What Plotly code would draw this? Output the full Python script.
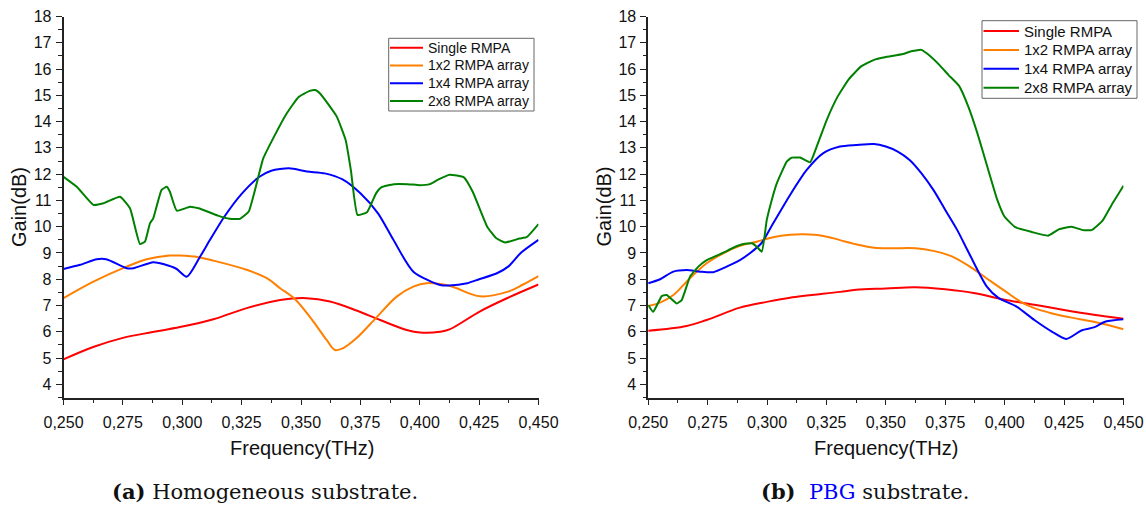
import plotly.graph_objects as go

W, H = 1146, 509

# ---------------- data: (a) Homogeneous substrate ----------------
a_single_x = [0.250, 0.2625, 0.275, 0.2875, 0.299, 0.3131, 0.3271, 0.3412, 0.3524, 0.3622, 0.3734,
              0.3833, 0.3945, 0.4001, 0.4086, 0.4125, 0.4254, 0.4375, 0.450]
a_single_y = [4.95, 5.42, 5.77, 5.99, 6.18, 6.48, 6.90, 7.21, 7.28, 7.15, 6.81,
              6.45, 6.07, 5.97, 6.0, 6.09, 6.78, 7.31, 7.8]

a_1x2_x = [0.250, 0.2626, 0.2766, 0.2850, 0.2948, 0.2990, 0.3068, 0.3131, 0.3271, 0.3356, 0.3412,
           0.3475, 0.3552, 0.3608, 0.3643, 0.3678, 0.3734, 0.3819, 0.3903, 0.3973, 0.4029,
           0.4125, 0.4254, 0.4375, 0.4435, 0.450]
a_1x2_y = [7.28, 7.91, 8.48, 8.76, 8.90, 8.90, 8.84, 8.71, 8.36, 8.04, 7.66,
           7.24, 6.39, 5.69, 5.31, 5.38, 5.76, 6.56, 7.34, 7.72, 7.85,
           7.75, 7.35, 7.54, 7.8, 8.12]

a_1x4_x = [0.250, 0.2570, 0.2640, 0.2680, 0.2766, 0.2794, 0.2878, 0.2920, 0.2975, 0.3019, 0.3075,
           0.3117, 0.3175, 0.325, 0.3325, 0.3375, 0.345, 0.3525, 0.360, 0.3675, 0.375,
           0.3825, 0.3889, 0.3973, 0.4086, 0.4125, 0.420, 0.425, 0.4325, 0.4375, 0.4425,
           0.450]
a_1x4_y = [8.39, 8.55, 8.76, 8.76, 8.42, 8.42, 8.65, 8.58, 8.4, 8.10, 8.86,
           9.5, 10.35, 11.25, 11.9, 12.13, 12.22, 12.1, 12.03, 11.8, 11.27,
           10.5, 9.5, 8.29, 7.78, 7.76, 7.85, 8.0, 8.23, 8.5, 9.0,
           9.5]

a_2x8_x = [0.250, 0.2556, 0.2626, 0.2668, 0.2738, 0.2780, 0.2822, 0.2843, 0.2864, 0.2878, 0.2913,
           0.2935, 0.2948, 0.2977, 0.3033, 0.3068, 0.310, 0.315, 0.320, 0.3243, 0.3280,
           0.3341, 0.3386, 0.3439, 0.3490, 0.3537, 0.3560, 0.3582, 0.3650, 0.3688, 0.3710,
           0.3738, 0.3778, 0.3816, 0.3838, 0.3891, 0.395, 0.400, 0.4042, 0.4075, 0.4125,
           0.4186, 0.4223, 0.4284, 0.4321, 0.4360, 0.4420, 0.4450, 0.450]
a_2x8_y = [11.90, 11.52, 10.83, 10.89, 11.14, 10.70, 9.34, 9.43, 10.13, 10.32, 11.40,
           11.52, 11.33, 10.61, 10.76, 10.70, 10.6, 10.42, 10.3, 10.3, 10.58,
           12.6, 13.42, 14.3, 14.94, 15.17, 15.2, 15.05, 14.2, 13.3, 12.15,
           10.45, 10.55, 11.27, 11.5, 11.62, 11.62, 11.58, 11.62, 11.78, 11.98,
           11.88, 11.33, 10.0, 9.57, 9.4, 9.55, 9.6, 10.1]

# ---------------- data: (b) PBG substrate ----------------
b_single_x = [0.250, 0.2662, 0.2746, 0.2886, 0.2999, 0.3097, 0.3307, 0.3375, 0.350, 0.3625, 0.375,
              0.3875, 0.400, 0.4125, 0.425, 0.4375, 0.450]
b_single_y = [6.04, 6.22, 6.45, 6.92, 7.14, 7.30, 7.52, 7.6, 7.65, 7.7, 7.62,
              7.47, 7.22, 7.03, 6.83, 6.65, 6.5]

b_1x2_x = [0.250, 0.255, 0.2606, 0.2676, 0.2746, 0.2816, 0.2886, 0.2957, 0.3026, 0.3097, 0.3153,
           0.3237, 0.3307, 0.3375, 0.345, 0.3525, 0.3625, 0.370, 0.3775, 0.385, 0.3925,
           0.400, 0.4075, 0.4125, 0.420, 0.4275, 0.4375, 0.450]
b_1x2_y = [6.98, 7.11, 7.40, 8.04, 8.61, 8.99, 9.27, 9.43, 9.60, 9.69, 9.71,
           9.65, 9.49, 9.33, 9.2, 9.18, 9.18, 9.08, 8.88, 8.5, 8.03,
           7.56, 7.1, 6.9, 6.7, 6.55, 6.38, 6.1]

b_1x4_x = [0.250, 0.255, 0.2606, 0.2662, 0.2718, 0.2774, 0.2830, 0.2886, 0.2928, 0.2978, 0.3026,
           0.3097, 0.3167, 0.3237, 0.3307, 0.3375, 0.345, 0.350, 0.355, 0.360, 0.365,
           0.370, 0.375, 0.380, 0.385, 0.3925, 0.3975, 0.405, 0.4125, 0.420, 0.4259,
           0.4325, 0.4375, 0.4425, 0.450]
b_1x4_y = [7.85, 8.0, 8.29, 8.35, 8.29, 8.27, 8.48, 8.73, 8.99, 9.39, 10.13,
           11.21, 12.16, 12.80, 13.05, 13.11, 13.15, 13.05, 12.86, 12.54, 12.03,
           11.4, 10.64, 9.88, 8.99, 7.72, 7.28, 6.96, 6.45, 6.0, 5.73,
           6.06, 6.17, 6.39, 6.48]

b_2x8_x = [0.250, 0.2521, 0.2557, 0.2578, 0.2620, 0.2641, 0.2676, 0.2711, 0.2746, 0.2774, 0.2816,
           0.2858, 0.2900, 0.2936, 0.2957, 0.2978, 0.2999, 0.3020, 0.3041, 0.3083, 0.3104,
           0.3139, 0.3181, 0.3209, 0.3251, 0.3297, 0.3343, 0.3396, 0.3450, 0.3496, 0.3572,
           0.3603, 0.3649, 0.3672, 0.3725, 0.3763, 0.3808, 0.3847, 0.3885, 0.3931, 0.3969,
           0.3999, 0.4045, 0.4114, 0.4183, 0.4228, 0.4282, 0.4328, 0.4366, 0.4412, 0.4450,
           0.450]
b_2x8_y = [7.02, 6.76, 7.36, 7.40, 7.08, 7.21, 8.10, 8.48, 8.73, 8.84, 9.01,
           9.20, 9.34, 9.37, 9.24, 9.05, 10.26, 11.02, 11.65, 12.48, 12.63,
           12.63, 12.45, 13.05, 14.06, 14.95, 15.6, 16.1, 16.35, 16.45, 16.57,
           16.67, 16.73, 16.6, 16.16, 15.78, 15.36, 14.57, 13.56, 12.16, 11.02,
           10.39, 9.98, 9.8, 9.66, 9.9, 10.0, 9.87, 9.87, 10.23, 10.83,
           11.56]

series_names = ["Single RMPA", "1x2 RMPA array", "1x4 RMPA array", "2x8 RMPA array"]
series_colors = ["#FF0000", "#FF8000", "#0000FF", "#008000"]
smoothing = [1.0, 1.0, 0.7, 0.4]

x_ticks = [0.250, 0.275, 0.300, 0.325, 0.350, 0.375, 0.400, 0.425, 0.450]
y_ticks = list(range(4, 19))

panel_a = [(a_single_x, a_single_y), (a_1x2_x, a_1x2_y), (a_1x4_x, a_1x4_y), (a_2x8_x, a_2x8_y)]
panel_b = [(b_single_x, b_single_y), (b_1x2_x, b_1x2_y), (b_1x4_x, b_1x4_y), (b_2x8_x, b_2x8_y)]

fig = go.Figure()

for axes, panel in ((("x", "y"), panel_a), (("x2", "y2"), panel_b)):
    for i, (xs, ys) in enumerate(panel):
        fig.add_trace(go.Scatter(x=xs, y=ys, mode="lines", name=series_names[i],
                                 line=dict(color=series_colors[i], width=2, shape="spline",
                                           smoothing=smoothing[i]),
                                 xaxis=axes[0], yaxis=axes[1], showlegend=False))

SANS = "Liberation Sans, Arial, sans-serif"
tick_font = dict(family=SANS, size=16, color="#111111")

def xaxis_style(domain, anchor):
    return dict(domain=domain, anchor=anchor, range=[0.25, 0.45], automargin=False,
                tickmode="array", tickvals=x_ticks, tickformat=".3f",
                showline=True, linecolor="#222222", linewidth=1.6,
                ticks="outside", ticklen=6, tickwidth=1.4, tickcolor="#222222",
                ticklabelstandoff=3,
                minor=dict(dtick=0.0125, tick0=0.25, ticks="outside", ticklen=3.5,
                           tickwidth=1.2, tickcolor="#222222", showgrid=False),
                showgrid=False, zeroline=False, tickfont=tick_font)

def yaxis_style(domain, anchor):
    return dict(domain=domain, anchor=anchor, range=[3.5, 18], automargin=False,
                tickmode="array", tickvals=y_ticks,
                showline=True, linecolor="#222222", linewidth=1.6,
                ticks="outside", ticklen=6, tickwidth=1.4, tickcolor="#222222",
                ticklabelstandoff=1,
                minor=dict(dtick=0.5, tick0=0, ticks="outside", ticklen=3.5,
                           tickwidth=1.2, tickcolor="#222222", showgrid=False),
                showgrid=False, zeroline=False, tickfont=tick_font)

def px(x):
    return x / W

def py(y):
    return 1 - y / H

y_dom = [py(397.5), py(16.5)]

fig.update_layout(
    width=W, height=H,
    margin=dict(l=0, r=0, t=0, b=0, autoexpand=False),
    paper_bgcolor="white", plot_bgcolor="white",
    separators=",.",
    showlegend=False,
    font=dict(family=SANS, color="#111111"),
    xaxis=xaxis_style([px(63.5), px(538.5)], "y"),
    yaxis=yaxis_style(y_dom, "x"),
    xaxis2=xaxis_style([px(648.2), px(1123.5)], "y2"),
    yaxis2=yaxis_style(y_dom, "x2"),
)

# ---- legends drawn as boxes, line samples and text ----
shapes = []
annotations = []
legend_specs = [
    dict(bx=(388.7, 534), by=(38.3, 111), sx=(390, 423), tx=426, ry=47.7, step=17.8, fs=14),
    dict(bx=(982, 1137), by=(20.7, 98.3), sx=(983.5, 1019), tx=1022, ry=31.0, step=18.9, fs=15),
]
for spec in legend_specs:
    shapes.append(dict(type="rect", xref="paper", yref="paper",
                       x0=px(spec["bx"][0]), x1=px(spec["bx"][1]),
                       y0=py(spec["by"][1]), y1=py(spec["by"][0]),
                       line=dict(color="#666666", width=1), fillcolor="white", layer="above"))
    for i, name in enumerate(series_names):
        yy = spec["ry"] + i * spec["step"]
        shapes.append(dict(type="line", xref="paper", yref="paper",
                           x0=px(spec["sx"][0]), x1=px(spec["sx"][1]), y0=py(yy), y1=py(yy),
                           line=dict(color=series_colors[i], width=2), layer="above"))
        annotations.append(dict(text=name, x=px(spec["tx"]), y=py(yy), xanchor="left",
                                yanchor="middle", font=dict(family=SANS, size=spec["fs"],
                                                            color="#111111")))

title_font = dict(family=SANS, size=20, color="#111111")
cap_font = dict(family="DejaVu Serif, serif", size=21, color="#111111")

annotations += [
    dict(text="Frequency(THz)", x=px(302), y=py(448), font=title_font),
    dict(text="Frequency(THz)", x=px(886), y=py(448), font=title_font),
    dict(text="Gain(dB)", x=px(19), y=py(207), font=title_font, textangle=-90),
    dict(text="Gain(dB)", x=px(603.5), y=py(207), font=title_font, textangle=-90),
    dict(text="<b>(a)</b> Homogeneous substrate.", x=px(265), y=py(491), font=cap_font),
    dict(text="<b>(b)</b>&nbsp; <span style='color:#0000FF'>PBG</span> substrate.",
         x=px(865.5), y=py(491), font=cap_font),
]
for a in annotations:
    a.setdefault("xanchor", "center")
    a.setdefault("yanchor", "middle")
    a.update(xref="paper", yref="paper", showarrow=False)

fig.update_layout(shapes=shapes, annotations=annotations)

fig.write_html("out.html")
